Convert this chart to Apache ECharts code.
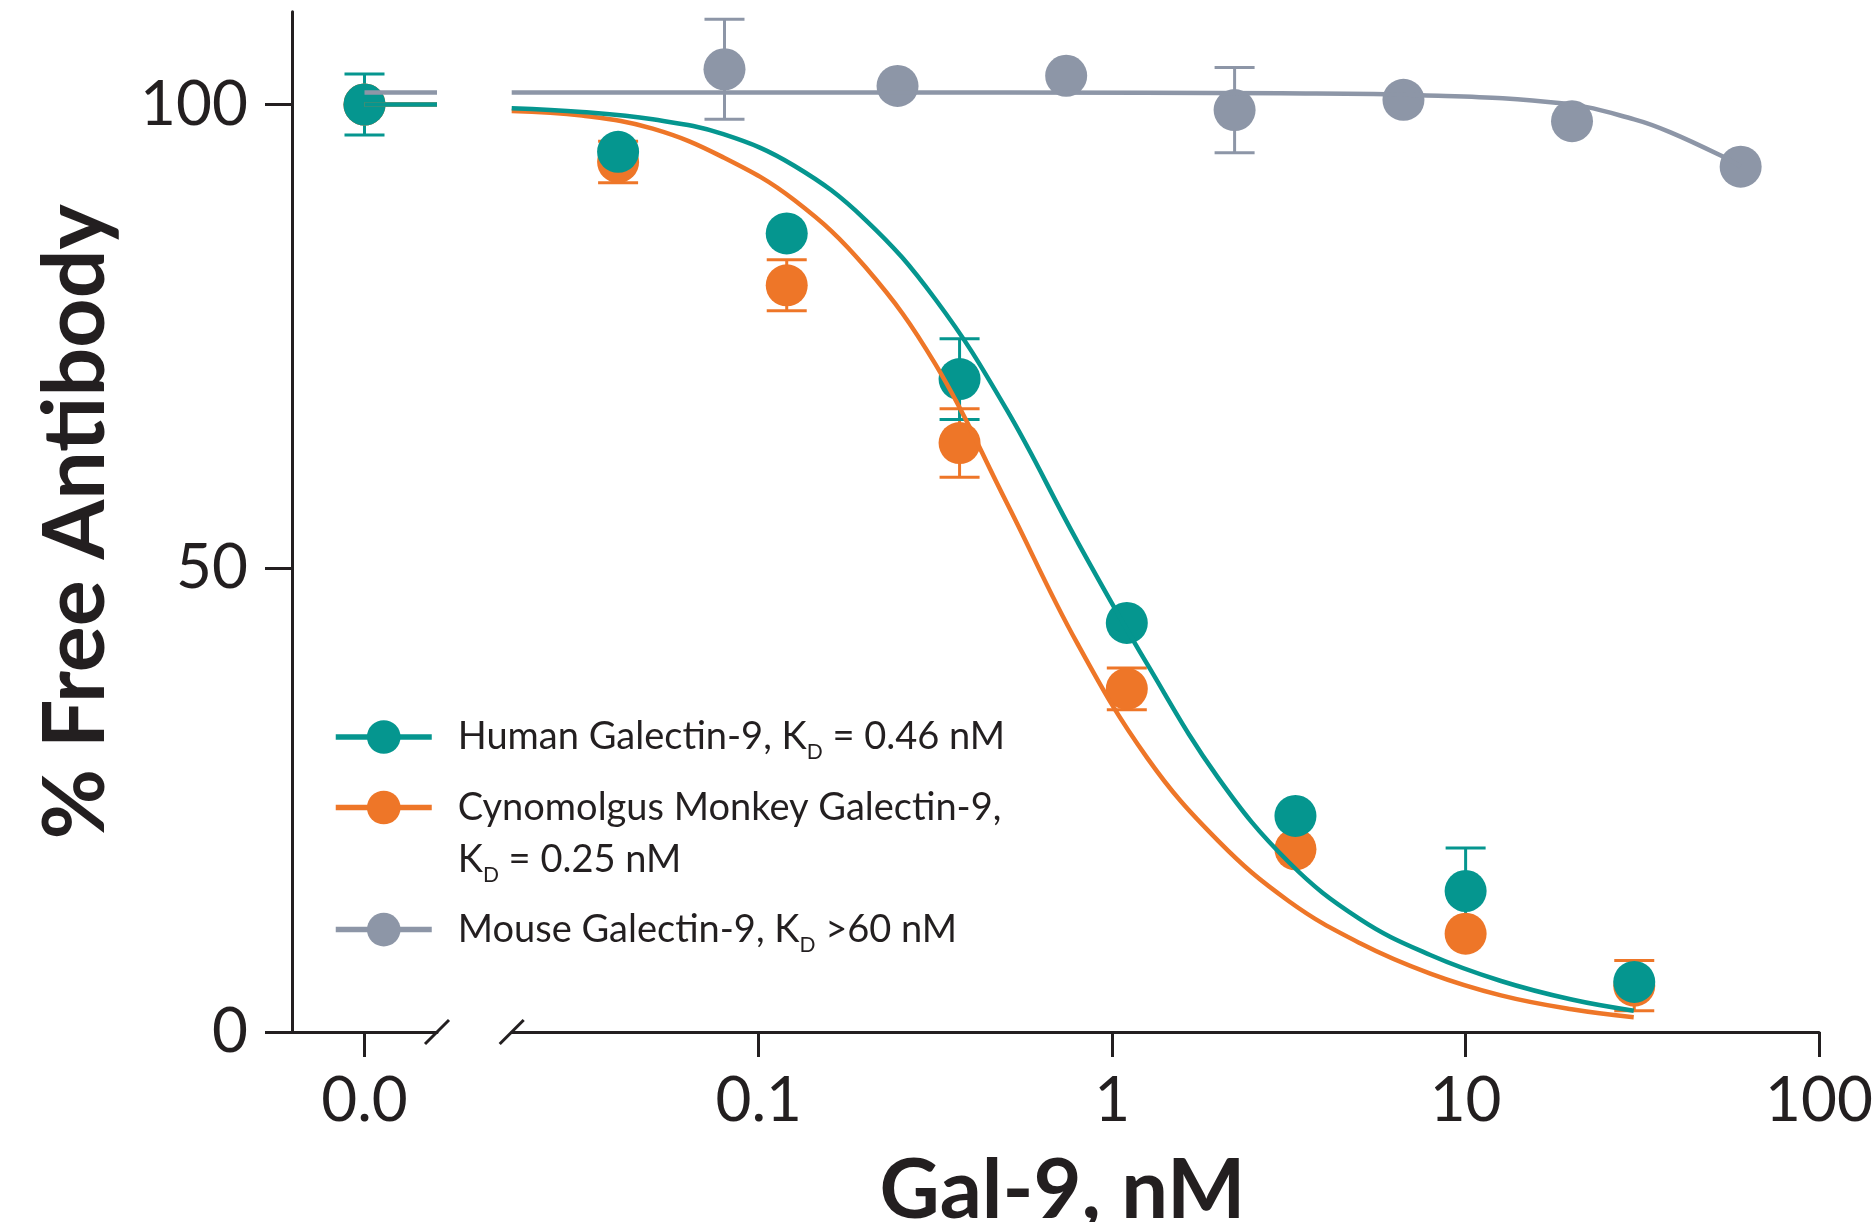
<!DOCTYPE html>
<html><head><meta charset="utf-8">
<script src="https://cdn.jsdelivr.net/npm/echarts@6/dist/echarts.min.js"></script>
<style>html,body{margin:0;padding:0;background:#fff}#c{width:1876px;height:1222px}</style>
</head><body><div id="c"></div>
<script>
// ---------- data ----------
const speciesNames = ['Human Galectin-9', 'Cynomolgus Monkey Galectin-9', 'Mouse Galectin-9'];

const humanConc = [0, 0.04, 0.12, 0.37, 1.1, 3.3, 10, 30];
const humanMean = [100, 94.9, 86.1, 70.4, 44.1, 23.3, 15.2, 5.4];
const humanSD   = [3.3, 0, 0, 4.35, 0, 0, 4.65, 0];

const cynoConc = [0, 0.04, 0.12, 0.37, 1.1, 3.3, 10, 30];
const cynoMean = [100, 93.8, 80.5, 63.5, 37.0, 19.7, 10.6, 5.0];
const cynoSD   = [0, 2.25, 2.75, 3.7, 2.25, 0, 0, 2.7];

const mouseConc = [0, 0.08, 0.247, 0.741, 2.22, 6.67, 20, 60];
const mouseMean = [100, 103.8, 102.0, 103.1, 99.4, 100.5, 98.2, 93.3];
const mouseSD   = [0, 5.4, 0, 0, 4.6, 0, 0, 0];

// fitted curves
const fitConc      = [0.02, 0.0316, 0.0501, 0.0794, 0.126, 0.2, 0.316, 0.501, 0.794, 1.259, 1.995, 3.162, 5.012, 7.943, 12.59, 19.95, 29.9];
const humanFitY    = [99.6, 99.2, 98.4, 96.8, 93.4, 87.6, 79.0, 67.2, 53.0, 39.6, 27.4, 18.3, 12.2, 8.3, 5.5, 3.5, 2.3];
const cynoFitY     = [99.3, 98.8, 97.4, 94.3, 89.7, 82.5, 72.0, 57.2, 42.0, 29.5, 20.6, 14.1, 9.6, 6.3, 3.95, 2.45, 1.6];
const mouseFitConc = [0.02, 0.1, 0.5, 3, 7.5, 19, 30, 38, 54, 60];
const mouseFitY    = [101.3, 101.3, 101.3, 101.2, 101.0, 100.1, 98.4, 97.0, 94.3, 93.3];
// plateau of the fit drawn in the zero-dose segment
const zeroFitY = [100, 100, 101.3]; // human, cyno, mouse

const legendKd = ['0.46 nM', '0.25 nM', '>60 nM'];

const yTicks = [0, 50, 100];
const yTickLabels = ['0', '50', '100'];
const xTicks = [0.1, 1, 10, 100];
const xTickLabels = ['0.1', '1', '10', '100'];
const zeroTickLabel = '0.0';

// ---------- style ----------
const AX = '#231F20';
const TEAL = '#05968F', ORANGE = '#EE7628', GRAY = '#8D96A7';
const FONT = 'Lato, "Noto Sans", sans-serif';

const species = [
  {name: speciesNames[2], color: GRAY,   conc: mouseConc, mean: mouseMean, sd: mouseSD, fx: mouseFitConc, fy: mouseFitY, zero: zeroFitY[2]},
  {name: speciesNames[1], color: ORANGE, conc: cynoConc,  mean: cynoMean,  sd: cynoSD,  fx: fitConc,      fy: cynoFitY,  zero: zeroFitY[1]},
  {name: speciesNames[0], color: TEAL,   conc: humanConc, mean: humanMean, sd: humanSD, fx: fitConc,      fy: humanFitY, zero: zeroFitY[0]}
];

function renderErr(params, api) {
  const x = api.value(0), lo = api.value(1), hi = api.value(2);
  const a = api.coord([x, hi]), b = api.coord([x, lo]);
  const hw = 20;
  const st = {stroke: api.visual('color'), lineWidth: 3};
  return {type: 'group', children: [
    {type: 'line', shape: {x1: a[0], y1: a[1], x2: b[0], y2: b[1]}, style: st},
    {type: 'line', shape: {x1: a[0] - hw, y1: a[1], x2: a[0] + hw, y2: a[1]}, style: st},
    {type: 'line', shape: {x1: b[0] - hw, y1: b[1], x2: b[0] + hw, y2: b[1]}, style: st}
  ]};
}

const series = [];
species.forEach(s => {
  series.push({
    type: 'line', name: s.name, xAxisIndex: 1, yAxisIndex: 1,
    data: s.fx.map((x, i) => [x, s.fy[i]]),
    symbol: 'circle', showSymbol: false, symbolSize: 42, smooth: 0.4,
    lineStyle: {color: s.color, width: 4.5}, itemStyle: {color: s.color}, silent: true
  });
  series.push({
    type: 'line', name: s.name, xAxisIndex: 0, yAxisIndex: 0,
    data: [[0, s.zero], [1, s.zero]], symbol: 'none',
    lineStyle: {color: s.color, width: 4.5}, itemStyle: {color: s.color}, silent: true
  });
  const errR = [], errL = [], ptsR = [], ptsL = [];
  s.conc.forEach((c, i) => {
    if (c === 0) {
      ptsL.push([0, s.mean[i]]);
      if (s.sd[i] > 0) errL.push([0, s.mean[i] - s.sd[i], s.mean[i] + s.sd[i]]);
    } else {
      ptsR.push([c, s.mean[i]]);
      if (s.sd[i] > 0) errR.push([c, s.mean[i] - s.sd[i], s.mean[i] + s.sd[i]]);
    }
  });
  series.push({type: 'custom', name: s.name, xAxisIndex: 1, yAxisIndex: 1, renderItem: renderErr,
    encode: {x: 0, y: [1, 2]}, data: errR, itemStyle: {color: s.color}, silent: true});
  series.push({type: 'custom', name: s.name, xAxisIndex: 0, yAxisIndex: 0, renderItem: renderErr,
    encode: {x: 0, y: [1, 2]}, data: errL, itemStyle: {color: s.color}, silent: true});
  series.push({type: 'scatter', name: s.name, xAxisIndex: 1, yAxisIndex: 1, data: ptsR,
    symbol: 'circle', symbolSize: 42, itemStyle: {color: s.color, opacity: 1}, silent: true});
  series.push({type: 'scatter', name: s.name, xAxisIndex: 0, yAxisIndex: 0, data: ptsL,
    symbol: 'circle', symbolSize: 42, itemStyle: {color: s.color, opacity: 1}, silent: true});
});

const axLine = {show: true, onZero: false, lineStyle: {color: AX, width: 3}};
const tickLbl = {fontSize: 62, color: AX, fontFamily: FONT};

const legendTextBase = {
  fontSize: 38, color: AX, fontFamily: FONT, lineHeight: 52,
  rich: {
    sub: {fontSize: 21, lineHeight: 18, verticalAlign: 'bottom', color: AX, fontFamily: FONT}
  }
};
function mkLegend(idx, top, fmt, padTop) {
  return {
    data: [speciesNames[idx]], left: 333, top: top, orient: 'vertical', padding: 0,
    itemWidth: 96, itemHeight: 42, selectedMode: false,
    lineStyle: {width: 5.5},
    formatter: () => fmt,
    textStyle: Object.assign({}, legendTextBase, {padding: [padTop, 0, 0, 21]})
  };
}

const option = {
  animation: false,
  backgroundColor: '#fff',
  grid: [
    {left: 292, width: 145, top: 11.75, bottom: 190},
    {left: 511.7, right: 55.5, top: 11.75, bottom: 190}
  ],
  xAxis: [
    {type: 'value', gridIndex: 0, min: -1, max: 1,
      axisLine: axLine,
      axisTick: {show: true, customValues: [0], length: 25, lineStyle: {color: AX, width: 3}},
      axisLabel: Object.assign({customValues: [0], margin: 37.5, formatter: () => zeroTickLabel}, tickLbl),
      splitLine: {show: false}},
    {type: 'log', logBase: 10, gridIndex: 1, min: 0.02, max: 100,
      axisLine: axLine,
      axisTick: {show: true, customValues: xTicks, length: 25, lineStyle: {color: AX, width: 3}},
      axisLabel: Object.assign({customValues: xTicks, margin: 37.5,
        formatter: v => { const i = xTicks.findIndex(t => Math.abs(Math.log10(t) - Math.log10(v)) < 1e-6); return i >= 0 ? xTickLabels[i] : ''; }}, tickLbl),
      splitLine: {show: false}, minorTick: {show: false}, minorSplitLine: {show: false}}
  ],
  yAxis: [
    {type: 'value', gridIndex: 0, min: 0, max: 110,
      axisLine: axLine,
      axisTick: {show: true, customValues: yTicks, length: 27, lineStyle: {color: AX, width: 3}},
      axisLabel: Object.assign({customValues: yTicks, margin: 44,
        formatter: v => { const i = yTicks.indexOf(v); return i >= 0 ? yTickLabels[i] : ''; }}, tickLbl),
      splitLine: {show: false},
      name: '% Free Antibody', nameLocation: 'middle', nameGap: 173,
      nameTextStyle: {fontSize: 86, fontWeight: 'bold', color: AX, fontFamily: FONT}},
    {type: 'value', gridIndex: 1, min: 0, max: 110, show: false}
  ],
  legend: [
    mkLegend(0, 711, 'Human Galectin-9, K{sub|D} = ' + legendKd[0], 0),
    mkLegend(1, 729.5, 'Cynomolgus Monkey Galectin-9,\nK{sub|D} = ' + legendKd[1], 52),
    mkLegend(2, 903.6, 'Mouse Galectin-9, K{sub|D} ' + legendKd[2], 0)
  ],
  series: series
};

const chart = echarts.init(document.getElementById('c'));
chart.setOption(option);

// axis-break slashes and x-axis title
const pL = chart.convertToPixel({gridIndex: 0}, [1, 0]);
const pR = chart.convertToPixel({gridIndex: 1}, [0.02, 0]);
const pMidL = chart.convertToPixel({gridIndex: 0}, [-1, 0]);
const pMidR = chart.convertToPixel({gridIndex: 1}, [100, 0]);
const d = 12;
function slash(id, p) {
  return {id: id, type: 'line', shape: {x1: p[0] - d, y1: p[1] + d, x2: p[0] + d, y2: p[1] - d},
    style: {stroke: AX, lineWidth: 3}, z: 10};
}
chart.setOption({graphic: [
  slash('s1', pL), slash('s2', pR),
  {id: 'xname', type: 'text', x: (pMidL[0] + pMidR[0]) / 2 + 7, y: 1150,
    style: {text: 'Gal-9, nM', fontSize: 83, fontWeight: 'bold', fontFamily: FONT, fill: AX,
      align: 'center', verticalAlign: 'top', lineHeight: 83}}
]});
</script></body></html>
